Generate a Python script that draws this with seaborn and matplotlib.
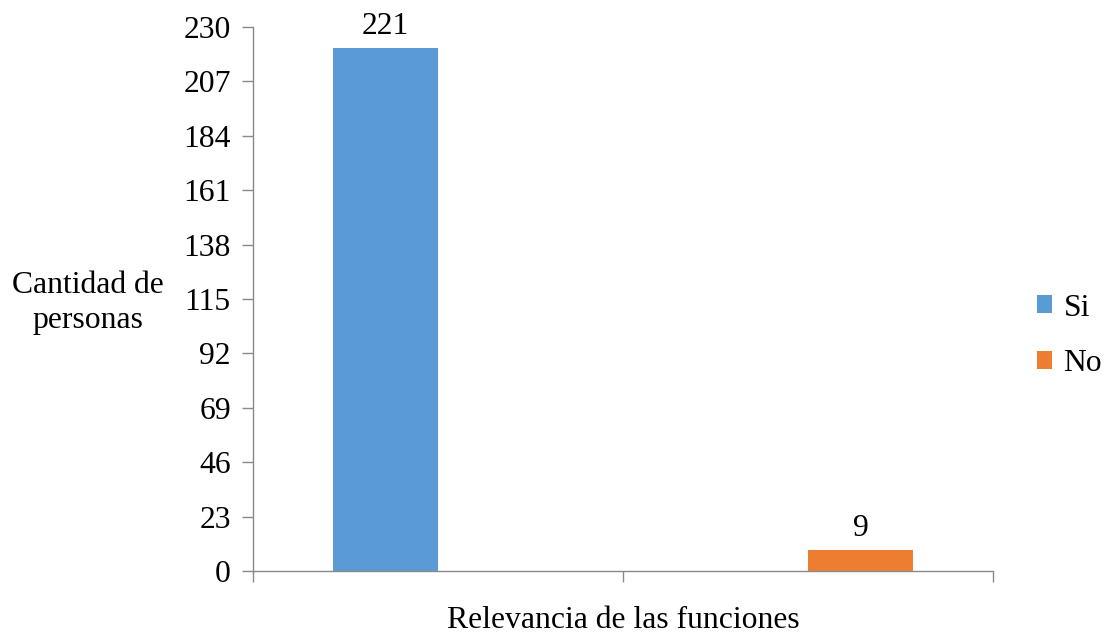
import matplotlib
matplotlib.use("Agg")
import matplotlib.pyplot as plt
import seaborn as sns
import pandas as pd
from matplotlib.patches import Patch

categories = ["Si", "No"]
groups = ["g1", "g1", "g2", "g2"]
series = ["Si", "No", "Si", "No"]
values = [221, 0, 0, 9]
yticks = [0, 23, 46, 69, 92, 115, 138, 161, 184, 207, 230]
colors = {"Si": "#5B9BD5", "No": "#ED7D31"}

sns.set_style("white")
plt.rcParams["font.family"] = ["Liberation Serif", "DejaVu Serif"]
plt.rcParams["text.color"] = "black"
plt.rcParams["xtick.color"] = "black"
plt.rcParams["ytick.color"] = "black"

FS = 22.8

df = pd.DataFrame({"grupo": groups, "serie": series, "valor": values})

fig = plt.figure(figsize=(11.04, 6.34), dpi=100)
ax = fig.add_axes([0.2292, 0.0994, 0.6703, 0.858])

sns.barplot(data=df, x="grupo", y="valor", hue="serie", hue_order=categories,
            palette=colors, width=0.57, linewidth=0, saturation=1,
            dodge=True, legend=False, ax=ax)

for cont in ax.containers:
    for bar, v in zip(cont, cont.datavalues):
        if v > 0:
            ax.text(bar.get_x() + bar.get_width() / 2, v + 3, f"{int(v)}",
                    ha="center", va="bottom", fontsize=FS, color="black")

ax.set_ylim(0, 230)
ax.set_xlim(-0.5, 1.5)
ax.set_yticks(yticks)
ax.set_yticklabels([str(t) for t in yticks], fontsize=FS)
ax.set_xticks([-0.5, 0.5, 1.5])
ax.set_xticklabels([])
ax.tick_params(axis="both", direction="out", length=8, color="#898989", width=1,
               bottom=True, left=True, labelcolor="black")
ax.tick_params(axis="y", pad=8)
for s in ["top", "right"]:
    ax.spines[s].set_visible(False)
for s in ["left", "bottom"]:
    ax.spines[s].set_color("#898989")
    ax.spines[s].set_linewidth(1)

ax.set_xlabel("Relevancia de las funciones", fontsize=FS, labelpad=14, color="black")
ax.set_ylabel("")
fig.text(0.08, 0.522, "Cantidad de\npersonas", fontsize=FS, ha="center", va="center",
         linespacing=1.3, color="black")

handles = [Patch(facecolor=colors[c], edgecolor="none") for c in categories]
fig.legend(handles, categories, loc="center left", bbox_to_anchor=(0.939, 0.47),
           frameon=False, fontsize=FS, handlelength=0.5, handleheight=0.5,
           handletextpad=0.35, labelspacing=0.85, borderpad=0, borderaxespad=0)

fig.savefig("out.png", dpi=100)
